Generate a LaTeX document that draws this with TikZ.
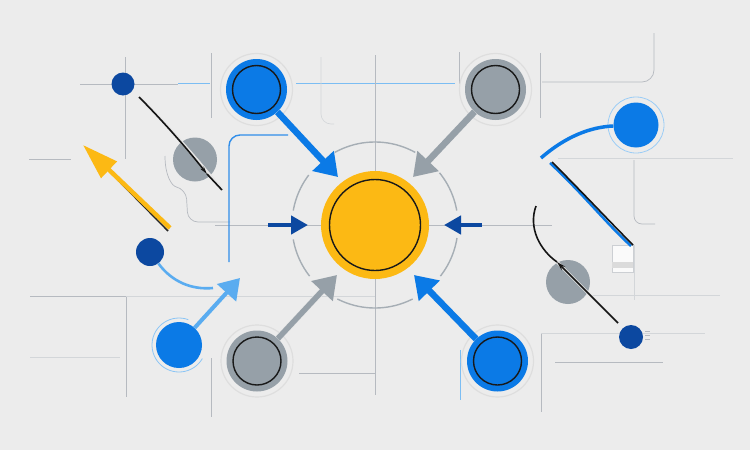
\documentclass[tikz,border=0pt]{standalone}
\usetikzlibrary{arrows.meta,calc}
\definecolor{bg}{RGB}{236,236,236}
\definecolor{myblue}{RGB}{11,122,230}
\definecolor{dblue}{RGB}{12,72,160}
\definecolor{lblue}{RGB}{90,172,240}
\definecolor{mgrey}{RGB}{150,160,168}
\definecolor{myyellow}{RGB}{252,185,20}
\definecolor{gline}{RGB}{182,186,192}
\definecolor{halo}{RGB}{222,222,222}
\begin{document}
\begin{tikzpicture}[x=1pt,y=-1pt,
  gridline/.style={draw=gline, line width=0.7pt},
  faintline/.style={draw=gline!60, line width=0.6pt},
  blueline/.style={draw=lblue!80, line width=0.7pt},
  bigball/.style={circle, minimum size=61pt, inner sep=0pt},
  haloring/.style={draw=halo, line width=1.2pt},
  ringline/.style={draw=black!90, line width=1.4pt},
  bigarrow/.style={line width=6.5pt, -{Triangle[length=22pt,width=28pt]}},
  midarrow/.style={line width=4.5pt, -{Triangle[length=17pt,width=18pt]}},
  shadowarrow/.style={draw=black!10, xshift=2pt, yshift=-3pt},
  dashring/.style={draw=mgrey!85, line width=1.4pt},
  thinblack/.style={draw=black!92, line width=1.6pt}
]
\fill[bg] (0,0) rectangle (750,450);
\useasboundingbox (0,0) rectangle (750,450);

% ---------- grid lines ----------
\draw[gridline] (80,84) -- (178,84);
\draw[blueline] (178,83) -- (210,83);
\draw[gridline] (125,57) -- (125,159);
\draw[gridline] (29,159) -- (71,159);
\draw[gridline] (211,53) -- (211,118);
\draw[blueline] (296,83) -- (455,83);
\draw[faintline, rounded corners=10pt] (321,57) -- (321,124) -- (334,124);
\draw[gridline] (375,55) -- (375,395);
\draw[gridline] (459,52) -- (459,84);
\draw[gridline] (540,53) -- (540,118);
\draw[gridline, rounded corners=12pt] (542,82) -- (654,82) -- (654,33);
\draw[faintline] (558,158) -- (733,158);
\draw[gridline, rounded corners=8pt] (634,160) -- (634,224) -- (655,224);
\draw[gridline] (215,225) -- (552,225);
\draw[gridline] (30,296) -- (126,296) -- (126,397);
\draw[faintline] (126,296) -- (375,296);
\draw[faintline] (30,357) -- (120,357);
\draw[gridline] (211,358) -- (211,417);
\draw[gridline] (299,373) -- (375,373);
\draw[blueline] (460,350) -- (460,400);
\draw[gridline] (541,333) -- (541,412);
\draw[faintline] (541,333) -- (705,333);
\draw[gridline] (555,362) -- (663,362);
\draw[faintline] (590,295) -- (720,295);
\draw[faintline] (634,245) -- (634,300);
\draw[gridline, rounded corners=10pt] (165,156) .. controls (165,176) and (172,186) .. (186,189) -- (188,222) -- (230,222);
\draw[draw=myblue!85, line width=1.4pt, rounded corners=11pt] (229,262) -- (229,135) -- (288,135);

% ---------- dashed ring ----------
\foreach \a/\b in {61/119, 143/170, 190/218, 243/297, 322/351, 10/39}
  \draw[dashring] plot[domain=\a:\b, samples=30] ({375+83*cos(\x)},{225-83*sin(\x)});

% ---------- nodes ----------
\node[circle, fill=myyellow, minimum size=108pt, inner sep=0pt] (core) at (375,225) {};
\draw[ringline] (core) circle[radius=45.5pt];

\draw[haloring] (256.5,89.5) circle[radius=36pt];
\node[bigball, fill=myblue] (tl) at (256.5,89.5) {};
\draw[ringline] (tl) circle[radius=24pt];

\draw[haloring] (495.5,89.5) circle[radius=36pt];
\node[bigball, fill=mgrey] (tr) at (495.5,89.5) {};
\draw[ringline] (tr) circle[radius=24pt];

\draw[haloring] (257,361) circle[radius=36pt];
\node[bigball, fill=mgrey] (bl) at (257,361) {};
\draw[ringline] (bl) circle[radius=24pt];

\draw[haloring] (497.5,361) circle[radius=36pt];
\node[bigball, fill=myblue] (br) at (497.5,361) {};
\draw[ringline] (br) circle[radius=24pt];

\draw[lblue!70, line width=0.8pt] plot[domain=70:330, samples=40] ({179+27*cos(\x)},{345-27*sin(\x)});
\node[circle, fill=myblue, minimum size=46pt, inner sep=0pt] (bsmall) at (179,345) {};

\draw[lblue!60, line width=0.8pt] (636,125) circle[radius=28pt];
\node[circle, fill=myblue, minimum size=45pt, inner sep=0pt] (trdot) at (636,125) {};

\node[circle, fill=dblue, minimum size=23pt, inner sep=0pt] (dota) at (123,84) {};
\node[circle, fill=dblue, minimum size=28pt, inner sep=0pt] (dotb) at (150,252) {};
\node[circle, fill=dblue, minimum size=24pt, inner sep=0pt] (dotc) at (631,337) {};
\node[circle, fill=mgrey, minimum size=44pt, inner sep=0pt] (greya) at (195,159.5) {};
\node[circle, fill=mgrey, minimum size=44pt, inner sep=0pt] (greyb) at (568,282) {};

% small box and ticks
\node[draw=gline!70, fill=black!2, minimum width=21pt, minimum height=27pt, inner sep=0pt] (box) at (622.5,258.5) {};
\fill[black!14] (612,262) rectangle (633,268);
\foreach \yy in {331,335,339} \draw[gline, line width=0.6pt] (645,\yy) -- (650,\yy);

% ---------- coordinates ----------
\coordinate (tipTL) at (338,177);
\coordinate (tipTR) at (413,177);
\coordinate (tipBL) at (337,275);
\coordinate (tipBR) at (414,275);
\coordinate (lfrom) at (268,225);
\coordinate (lto) at (308,225);
\coordinate (rfrom) at (482,225);
\coordinate (rto) at (444,225);
\coordinate (tipLB) at (240,278);
\coordinate (curveEnd) at (213,288);
\coordinate (yTail) at (170,228);
\coordinate (yTip) at (83,145);
\coordinate (yShadowA) at (168,231);
\coordinate (yShadowB) at (110,172);
\coordinate (la) at (139,97);
\coordinate (lmid) at (207,174);
\coordinate (lb) at (222,190);
\coordinate (rs) at (541,158);
\coordinate (bs) at (552,162);
\coordinate (be) at (633,245);
\coordinate (cs) at (536,206);
\coordinate (cm) at (557,262);
\coordinate (ce) at (618,323);

% ---------- arrows ----------
\draw[shadowarrow, bigarrow] (tl) -- (tipTL);
\draw[shadowarrow, bigarrow] (tr) -- (tipTR);
\draw[shadowarrow, bigarrow] (bl) -- (tipBL);
\draw[shadowarrow, bigarrow] (br) -- (tipBR);
\draw[bigarrow, myblue] (tl) -- (tipTL);
\draw[bigarrow, mgrey] (tr) -- (tipTR);
\draw[bigarrow, mgrey, line width=5.5pt] (bl) -- (tipBL);
\draw[bigarrow, myblue] (br) -- (tipBR);
\draw[midarrow, dblue] (lfrom) -- (lto);
\draw[midarrow, dblue] (rfrom) -- (rto);

% light blue arrow and curve
\draw[lblue, line width=4pt, -{Triangle[length=20pt,width=25pt]}] (bsmall) -- (tipLB);
\draw[lblue, line width=2.6pt] (dotb) .. controls (172,282) and (192,290) .. (curveEnd);

% yellow arrow
\draw[black!85, line width=1.5pt] (yShadowA) -- (yShadowB);
\draw[myyellow, line width=4.5pt, -{Triangle[length=36pt,width=22pt]}] (yTail) -- (yTip);

% black line over grey circle (left)
\draw[black!10, line width=3pt, xshift=2pt, yshift=-3pt] (la) .. controls (165,122) and (190,150) .. (lb);
\draw[thinblack, -{Stealth[length=8pt,width=4pt]}] (la) .. controls (160,118) and (185,146) .. (lmid);
\draw[thinblack] (lmid) -- (lb);

% right side curves
\draw[myblue, line width=3.5pt] (rs) .. controls (565,137) and (590,127) .. (trdot);
\draw[myblue, line width=2.5pt] ($(bs)+(-2,1)$) .. controls (585,196) and (605,222) .. ($(be)+(-2,1)$);
\draw[thinblack] (bs) .. controls (585,195) and (610,222) .. (be);
\draw[black!10, line width=3pt, xshift=2pt, yshift=-3pt] (cm) -- (ce);
\draw[thinblack] (cs) .. controls (528,228) and (540,250) .. (cm);
\draw[thinblack, -{Stealth[length=9pt,width=5pt]}] (ce) -- (cm);
\end{tikzpicture}
\end{document}
